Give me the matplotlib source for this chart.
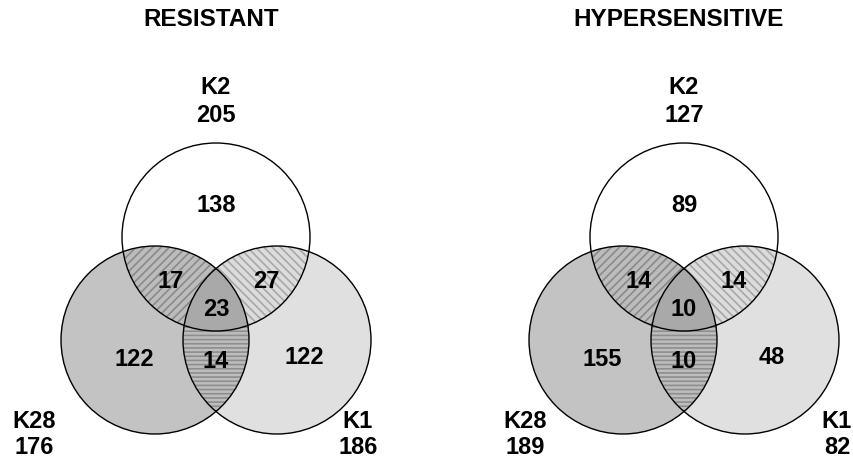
import numpy as np
import matplotlib
matplotlib.use('Agg')
import matplotlib.pyplot as plt
from matplotlib.patches import Circle, Polygon

plt.rcParams['font.family'] = ['Liberation Sans', 'DejaVu Sans']
plt.rcParams['hatch.linewidth'] = 1.2

# data
titles = ['RESISTANT', 'HYPERSENSITIVE']
set_names = ['K2', 'K28', 'K1']
totals = [[205, 176, 186], [127, 189, 82]]
# only K2, only K28, only K1, K2&K28, K2&K1, K28&K1, all three
region_counts = [[138, 122, 122, 17, 27, 14, 23],
                 [89, 155, 48, 14, 14, 10, 10]]

# layout (pixel coords, y down)
panel_cx = [216, 684]
top_cy = 237
r = 94
dx, dy = 61, 103
region_off = [(0, -32), (-82, 122), (88, 121), (-45, 45), (50, 44), (0, 125), (0, 72)]
label_x = [[216, 34, 358], [684, 525, 837]]

fig = plt.figure(figsize=(8.54, 4.63), dpi=100)
ax = fig.add_axes([0, 0, 1, 1])
ax.set_xlim(0, 854)
ax.set_ylim(463, 0)
ax.axis('off')


def inter_poly(centers, rad, n=1440):
    # boundary points of each circle lying inside all others
    pts = []
    t = np.linspace(0, 2 * np.pi, n, endpoint=False)
    for i, (x, y) in enumerate(centers):
        p = np.column_stack([x + rad * np.cos(t), y + rad * np.sin(t)])
        ok = np.ones(n, bool)
        for j, (x2, y2) in enumerate(centers):
            if j != i:
                ok &= np.hypot(p[:, 0] - x2, p[:, 1] - y2) <= rad + 1e-6
        pts.append(p[ok])
    pts = np.vstack(pts)
    c = pts.mean(axis=0)
    order = np.argsort(np.arctan2(pts[:, 1] - c[1], pts[:, 0] - c[0]))
    return pts[order]


for k in range(2):
    cx = panel_cx[k]
    top = (cx, top_cy)
    left = (cx - dx, top_cy + dy)
    right = (cx + dx, top_cy + dy)

    ax.add_patch(Circle(top, r, facecolor='white', lw=0, zorder=1))
    ax.add_patch(Circle(left, r, facecolor='#c3c3c3', lw=0, zorder=1))
    ax.add_patch(Circle(right, r, facecolor='#e0e0e0', lw=0, zorder=1))

    clip_l = Circle(left, r, transform=ax.transData)
    clip_r = Circle(right, r, transform=ax.transData)
    clip_r2 = Circle(right, r, transform=ax.transData)

    p = Circle(top, r, facecolor='#bcbcbc', edgecolor='#8a8a8a', hatch='////', lw=0, zorder=2)
    ax.add_patch(p)
    p.set_clip_path(clip_l)
    p = Circle(top, r, facecolor='#dcdcdc', edgecolor='#a8a8a8', hatch='\\\\\\\\', lw=0, zorder=2)
    ax.add_patch(p)
    p.set_clip_path(clip_r)
    p = Circle(left, r, facecolor='#bdbdbd', edgecolor='#8e8e8e', hatch='----', lw=0, zorder=2)
    ax.add_patch(p)
    p.set_clip_path(clip_r2)

    ax.add_patch(Polygon(inter_poly([top, left, right], r), closed=True,
                         facecolor='#a9a9a9', lw=0, zorder=3))

    for c in (top, left, right):
        ax.add_patch(Circle(c, r, fill=False, edgecolor='black', lw=1.0, zorder=4))

    ax.text(cx - 5, 19, titles[k], ha='center', va='center', fontsize=17.5, fontweight='bold')

    ax.text(label_x[k][0], 87, set_names[0], ha='center', va='center', fontsize=17, fontweight='bold')
    ax.text(label_x[k][0], 116, str(totals[k][0]), ha='center', va='center', fontsize=17, fontweight='bold')
    for i in (1, 2):
        ax.text(label_x[k][i], 421, set_names[i], ha='center', va='center', fontsize=17, fontweight='bold')
        ax.text(label_x[k][i], 448, str(totals[k][i]), ha='center', va='center', fontsize=17, fontweight='bold')

    for (ox, oy), v in zip(region_off, region_counts[k]):
        ax.text(cx + ox, top_cy + oy, str(v), ha='center', va='center',
                fontsize=17, fontweight='bold', zorder=5)

fig.savefig('out.png', dpi=100)
